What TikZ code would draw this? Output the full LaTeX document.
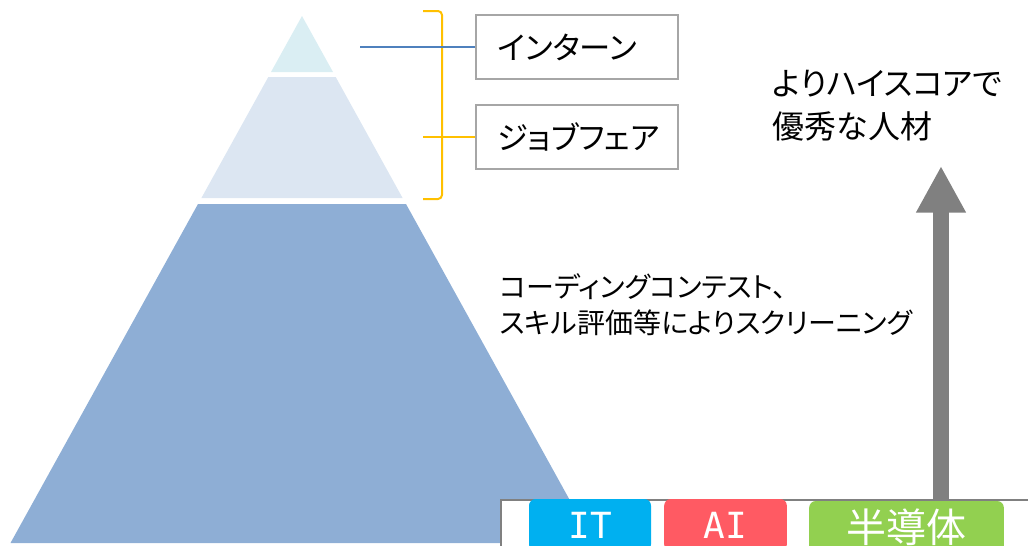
\documentclass[tikz,border=0pt]{standalone}
\usepackage{fontspec}
\usepackage{xcolor}
\usepackage{tikz}
\usetikzlibrary{arrows.meta, positioning}
\setmainfont{Noto Sans CJK JP}[RawFeature=+palt]
\newfontfamily\tagfont{DejaVu Sans Mono}

\definecolor{layertop}{HTML}{DAEEF3}
\definecolor{layermid}{HTML}{DCE6F2}
\definecolor{layerbase}{HTML}{8EAED5}
\definecolor{bracegold}{HTML}{FFC000}
\definecolor{linkblue}{HTML}{4F81BD}
\definecolor{boxgray}{HTML}{A6A6A6}
\definecolor{arrowgray}{HTML}{808080}
\definecolor{itblue}{HTML}{00B0F0}
\definecolor{aired}{HTML}{FF5A63}
\definecolor{semigreen}{HTML}{92D050}

\begin{document}
\begin{tikzpicture}[x=0.75pt, y=-0.75pt,
    labelbox/.style={draw=boxgray, line width=1.5pt, fill=white, minimum height=48pt,
        text width=119.5pt, inner xsep=16pt, align=left, font=\fontsize{23.5}{27}\selectfont},
    fieldtag/.style={rounded corners=5pt, minimum height=39pt, inner sep=0pt, text=white}]
        \useasboundingbox (0,0) rectangle (1028,546);
        \clip (0,0) rectangle (1028,546);

        % Pyramid layers
        \fill[layertop] (302,16) -- (333,72) -- (271,72) -- cycle;
        \fill[layermid] (268.3,77) -- (335.7,77) -- (402.6,198) -- (201.4,198) -- cycle;
        \fill[layerbase] (198,204) -- (406,204) -- (593.5,543) -- (10.5,543) -- cycle;

        % Boxes
        \node[labelbox] (intern) at (577,47) {インターン};
        \node[labelbox, below=18pt of intern] (jobfair) {ジョブフェア};

        % Bracket and links
        \draw[bracegold, line width=1.5pt, rounded corners=3pt] (423,11) -- (442,11) -- (442,199) -- (423,199);
        \coordinate (bracex) at (423,0);
        \coordinate (tipx) at (360,0);
        \coordinate (bracemid) at (jobfair.west -| bracex);
        \coordinate (tipmark) at (intern.west -| tipx);
        \draw[bracegold, line width=1.5pt] (bracemid) -- (jobfair.west);
        \draw[linkblue, line width=1.2pt] (tipmark) -- (intern.west);

        % Texts
        \node[anchor=west, align=left, font=\fontsize{21}{27}\selectfont] (screening) at (495,305)
            {コーディングコンテスト、\\スキル評価等によりスクリーニング};
        \node[anchor=west, align=left, font=\fontsize{24}{32}\selectfont] (talent) at (768,106)
            {よりハイスコアで\\優秀な人材};

        % Upward arrow
        \coordinate (arrowfoot) at (941,505);
        \coordinate (arrowtip) at (941,166);
        \draw[arrowgray, line width=12pt, -{Triangle[width=35pt, length=35pt]}] (arrowfoot) -- (arrowtip);

        % Fields panel
        \node[draw=gray, line width=1.5pt, fill=white, anchor=north west, minimum width=420pt, minimum height=60pt] (panel) at (500,499) {};
        \node[fieldtag, fill=itblue, minimum width=91.5pt, font=\tagfont\fontsize{27}{27}\selectfont] (it) at (590,525) {IT};
        \node[fieldtag, fill=aired, minimum width=92pt, font=\tagfont\fontsize{27}{27}\selectfont] (ai) at (725.5,525) {AI};
        \node[fieldtag, fill=semigreen, minimum width=146pt, font=\fontsize{30}{30}\selectfont] (semi) at (906.5,527) {半導体};

    \end{tikzpicture}
\end{document}
